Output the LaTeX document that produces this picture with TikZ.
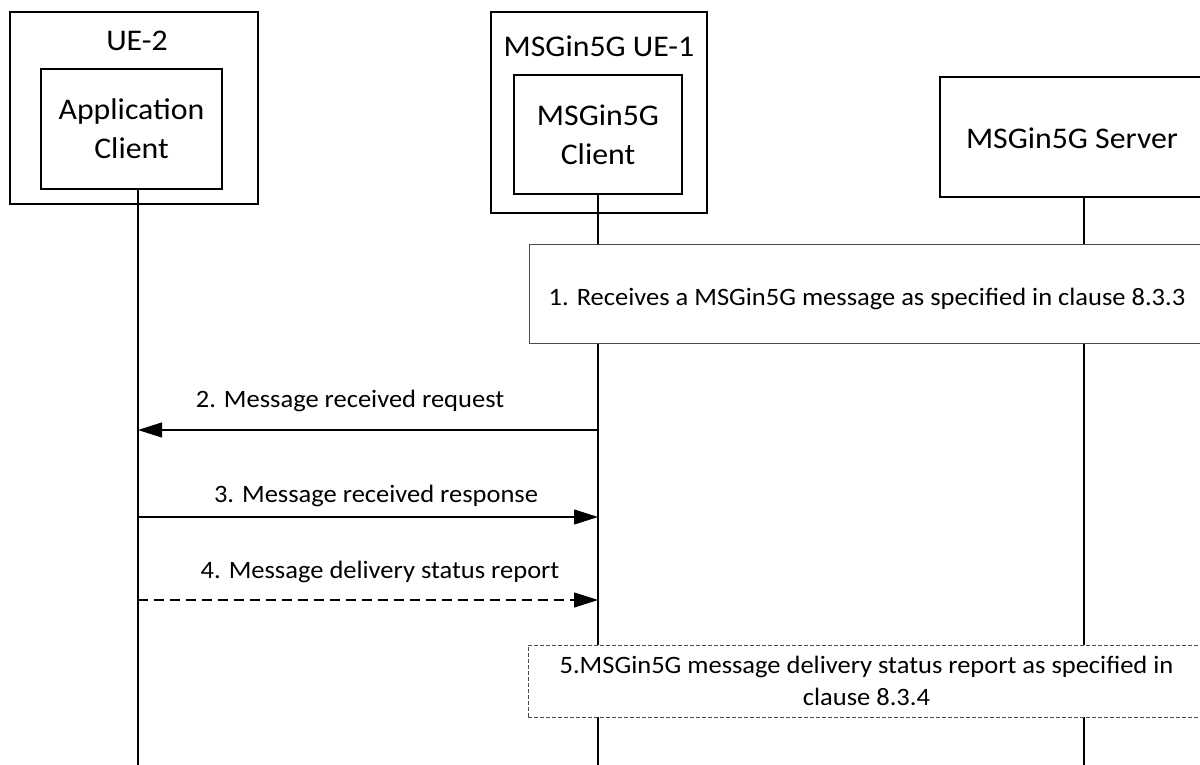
\documentclass[tikz,border=0pt]{standalone}
\usepackage{fontspec}
\setmainfont{Carlito}[FakeStretch=1.06]
\usetikzlibrary{arrows.meta}
\begin{document}
\begin{tikzpicture}[x=1pt,y=-1pt,
  box/.style={draw, line width=1.3pt, inner sep=0pt},
  stepbox/.style={draw=black!70, line width=1pt, inner sep=0pt, font=\fontsize{25}{32}\selectfont, align=center},
  steptext/.style={inner sep=0pt, font=\fontsize{25}{32}\selectfont, align=center},
  hdr/.style={font=\fontsize{30}{39}\selectfont, align=center, inner sep=0pt},
  msg/.style={font=\fontsize{25}{31}\selectfont, inner sep=0pt, anchor=base},
  life/.style={line width=1.1pt},
  arr/.style={line width=1.1pt, -{Triangle[length=24pt,width=15pt]}},
]
\useasboundingbox (0,0) rectangle (1200,765);
\clip (0,0) rectangle (1200,765);

% UE-2
\node[box, minimum width=248pt, minimum height=192pt] (ue2) at (134,108) {};
\node[hdr, anchor=base] (ue2t) at (137,51) {UE-2};
\node[box, hdr, minimum width=181pt, minimum height=120pt] (app) at (131.5,129) {Application\\Client};

% UE-1
\node[box, minimum width=216pt, minimum height=201pt] (ue1) at (599,112.5) {};
\node[hdr, anchor=base] (ue1t) at (599,57) {MSGin5G UE-1};
\node[box, hdr, minimum width=168pt, minimum height=119pt] (cli) at (598,134.5) {MSGin5G\\Client};

% Server
\node[box, minimum width=275pt, minimum height=120pt] (srv) at (1077.5,137) {};
\node[hdr, anchor=base] (srvt) at (1072,149) {MSGin5G Server};

% lifeline ends
\coordinate (l1) at (138,766);
\coordinate (l2) at (598,766);
\coordinate (l3) at (1084,766);

\draw[life] (app.south -| l1) -- (l1);
\draw[life] (cli.south) -- (l2);
\draw[life] (srv.south -| l3) -- (l3);

% step 1
\node[stepbox, fill=white, minimum width=676pt, minimum height=99pt] (s1) at (867,293.5) {};
\node[steptext] (s1t) at ([yshift=-5pt]s1.center)
  {1. Receives a MSGin5G message as specified in clause 8.3.3};

% messages
\coordinate (m2) at (0,430);
\coordinate (m3) at (0,517);
\coordinate (m4) at (0,600);
\draw[arr] (l2 |- m2) -- (l1 |- m2);
\node[msg] (t2) at (350,407) {2. Message received request};
\draw[arr] (l1 |- m3) -- (l2 |- m3);
\node[msg] (t3) at (376,502) {3. Message received response};
\draw[arr, dash pattern=on 10pt off 6pt] (l1 |- m4) -- (l2 |- m4);
\node[msg] (t4) at (380,578) {4. Message delivery status report};

% step 5
\node[stepbox, fill=white, dash pattern=on 4pt off 2pt, minimum width=677pt, minimum height=72pt] (s5) at (866.5,681)
  {5.MSGin5G message delivery status report as specified in\\clause 8.3.4};
\end{tikzpicture}
\end{document}
